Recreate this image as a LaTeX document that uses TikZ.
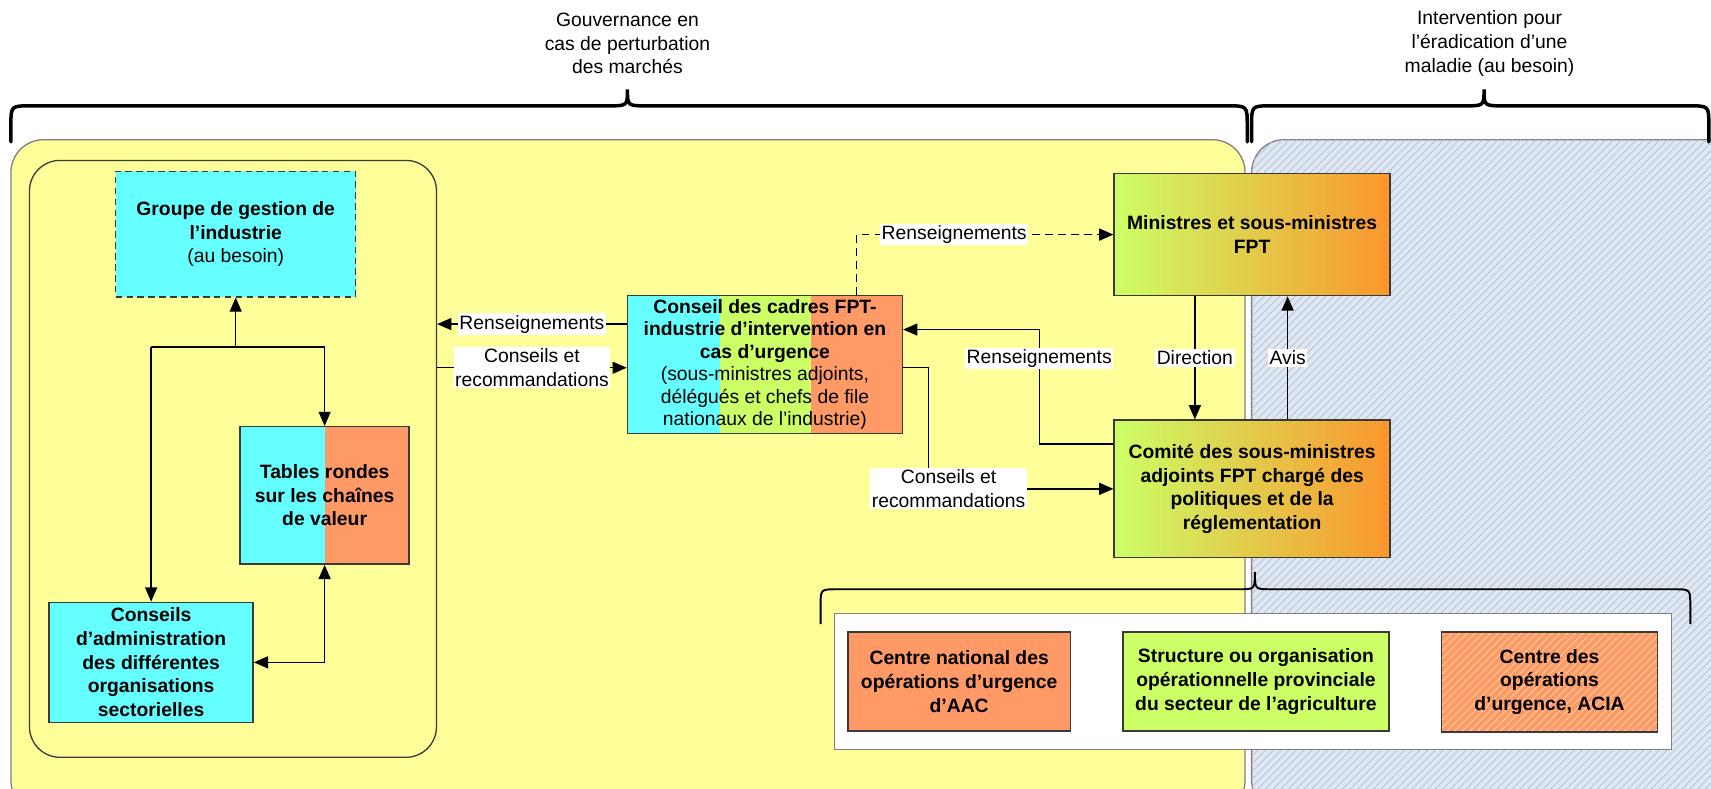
\documentclass[tikz,border=0pt]{standalone}
\usepackage{fontspec}
\setmainfont{Liberation Sans}
\usetikzlibrary{arrows.meta, patterns.meta, positioning}

\definecolor{jaune}{HTML}{FFFF99}
\definecolor{cyanclair}{HTML}{66FFFF}
\definecolor{saumon}{HTML}{FF9966}
\definecolor{vertclair}{HTML}{CCFF66}
\definecolor{orangefonce}{HTML}{FA962E}
\definecolor{bleuzone}{HTML}{DFE7F3}
\definecolor{hachure}{HTML}{B7C3D5}
\definecolor{hachureorange}{HTML}{FFD2A0}
\definecolor{trait}{HTML}{3A3A3A}
\definecolor{bord}{HTML}{7F7F7F}

\tikzset{
  texte/.style={font=\fontsize{17.7}{21.7}\selectfont},
  boite/.style={draw=trait, line width=1.3pt, align=center, inner sep=2pt,
    font=\fontsize{17.7}{21.7}\selectfont\bfseries},
  degrade/.style={boite, left color=vertclair, right color=orangefonce},
  fleche/.style={draw=black, line width=1.2pt, -{Triangle[length=13pt,width=11pt]}},
  fleche double/.style={draw=black, line width=1.2pt, {Triangle[length=13pt,width=11pt]}-{Triangle[length=13pt,width=11pt]}},
  etiquette/.style={texte, fill=white, inner sep=1.5pt, align=center},
  accolade/.style={line width=3.2pt, line cap=round},
}

\begin{document}
\begin{tikzpicture}[x=1pt, y=-1pt]
\useasboundingbox (0,0) rectangle (1568,723);

% zones de fond
\draw[draw=bord, line width=1.2pt, fill=jaune, rounded corners=30pt] (10,128) rectangle (1141,745);
\draw[draw=bord, line width=1.2pt, rounded corners=30pt, fill=bleuzone,
  postaction={pattern={Lines[angle=45,distance=5pt,line width=0.8pt]}, pattern color=hachure}]
  (1147,128) rectangle (1620,745);

% accolades du haut
\draw[accolade] (10,130) -- (10,115) .. controls (10,97) .. (28,97) -- (557,97)
  .. controls (575,97) .. (575,82) .. controls (575,97) .. (593,97) -- (1125,97)
  .. controls (1143,97) .. (1143,115) -- (1143,130);
\draw[accolade] (1147,130) -- (1147,115) .. controls (1147,97) .. (1165,97) -- (1342,97)
  .. controls (1360,97) .. (1360,82) .. controls (1360,97) .. (1378,97) -- (1548,97)
  .. controls (1566,97) .. (1566,115) -- (1566,130);
\node[texte, align=center] (gouvernance) at (575,40) {Gouvernance en\\cas de perturbation\\des marchés};
\node[texte, align=center] (eradication) at (1365,40) {Intervention pour\\l’éradication d’une\\maladie (au besoin)};

% bloc de gauche
\node[draw=trait, line width=1.2pt, rounded corners=28pt, minimum width=373pt, minimum height=547pt] (interne) at (213.5,420.5) {};
\node[boite, dashed, dash pattern=on 6pt off 4pt, fill=cyanclair, minimum width=220pt, minimum height=115pt] (groupe) at (216,214.5)
  {Groupe de gestion de\\l’industrie\\\mdseries (au besoin)};
\node[boite, minimum width=155pt, minimum height=126pt,
  path picture={
    \fill[cyanclair] (path picture bounding box.south west) rectangle (path picture bounding box.north);
    \fill[saumon] (path picture bounding box.south) rectangle (path picture bounding box.north east);
  }] (tables) at (297.5,454) {Tables rondes\\sur les chaînes\\de valeur};
\node[boite, fill=cyanclair, minimum width=187pt, minimum height=110pt] (admin) at (138.5,607)
  {Conseils\\d’administration\\des différentes\\organisations\\sectorielles};

% conseil des cadres
\node[boite, font=\fontsize{17.7}{20.6}\selectfont\bfseries, minimum width=252pt, minimum height=126pt,
  path picture={
    \fill[cyanclair] (path picture bounding box.south west) rectangle ([xshift=85pt]path picture bounding box.north west);
    \fill[vertclair] ([xshift=85pt]path picture bounding box.south west) rectangle ([xshift=168pt]path picture bounding box.north west);
    \fill[saumon] ([xshift=168pt]path picture bounding box.south west) rectangle (path picture bounding box.north east);
  }] (cadres) at (701,334)
  {Conseil des cadres FPT-\\industrie d’intervention en\\cas d’urgence\\\mdseries (sous-ministres adjoints,\\\mdseries délégués et chefs de file\\\mdseries nationaux de l’industrie)};

% ministres et comite
\node[degrade, minimum width=253pt, minimum height=112pt] (ministres) at (1147.5,215) {Ministres et sous-ministres\\FPT};
\node[degrade, minimum width=253pt, minimum height=126pt] (comite) at (1147.5,448)
  {Comité des sous-ministres\\adjoints FPT chargé des\\politiques et de la\\réglementation};

% accolade du bas et centres d'operations
\draw[line width=1.8pt] (752,572) -- (752,555) .. controls (752,540) .. (767,540) -- (1136,540)
  .. controls (1150,540) .. (1150,524) .. controls (1150,540) .. (1164,540) -- (1534,540)
  .. controls (1549,540) .. (1549,555) -- (1549,572);
\node[draw=bord, line width=1.2pt, fill=white, minimum width=767pt, minimum height=125pt] (cellules) at (1148.5,624.5) {};
\node[boite, fill=saumon, minimum width=204pt, minimum height=91pt] (national) at (879,624.5)
  {Centre national des\\opérations d’urgence\\d’AAC};
\node[boite, fill=vertclair, minimum width=244pt, minimum height=91pt] (structure) at (1151,624.5)
  {Structure ou organisation\\opérationnelle provinciale\\du secteur de l’agriculture};
\node[boite, preaction={fill=saumon}, pattern={Lines[angle=45,distance=5pt,line width=0.8pt]}, pattern color=hachureorange,
  minimum width=198pt, minimum height=92pt] (acia) at (1420,625)
  {Centre des\\opérations\\d’urgence, ACIA};

% liens du bloc de gauche
\coordinate (jonction) at (216,318);
\draw[fleche] (jonction) -- (groupe.south);
\draw[line width=1.2pt] (jonction -| admin.north) -- (jonction -| tables.north);
\draw[fleche] (jonction -| admin.north) -- (admin.north);
\draw[fleche] (jonction -| tables.north) -- (tables.north);
\draw[fleche double] (tables.south) |- (admin.east);

% liens du conseil des cadres
\coordinate (rens) at ([yshift=37pt]cadres.west);
\coordinate (cons) at ([yshift=-3pt]cadres.west);
\draw[fleche] (rens) -- (rens -| interne.east) node[etiquette, midway] (rensA) {Renseignements};
\draw[fleche] (cons -| interne.east) -- (cons) node[etiquette, midway] (consA) {Conseils et\\recommandations};
\draw[fleche, dash pattern=on 7pt off 5pt] ([xshift=84pt]cadres.north) |- (ministres.west)
  node[etiquette, pos=0.69] (rensB) {Renseignements};
\draw[fleche] ([yshift=41pt]comite.west) -- ++(-68,0) |- ([yshift=32pt]cadres.east)
  node[etiquette, pos=0.375] (rensC) {Renseignements};
\draw[fleche] ([yshift=-3pt]cadres.east) -- ++(23,0) |- (comite.west)
  node[etiquette, pos=0.555] (consB) {Conseils et\\recommandations};

% liens ministres et comite
\draw[fleche] ([xshift=-52.5pt]ministres.south) -- ([xshift=-52.5pt]comite.north)
  node[etiquette, midway] (direction) {Direction};
\draw[fleche] ([xshift=32.5pt]comite.north) -- ([xshift=32.5pt]ministres.south)
  node[etiquette, midway] (avis) {Avis};
\end{tikzpicture}
\end{document}
